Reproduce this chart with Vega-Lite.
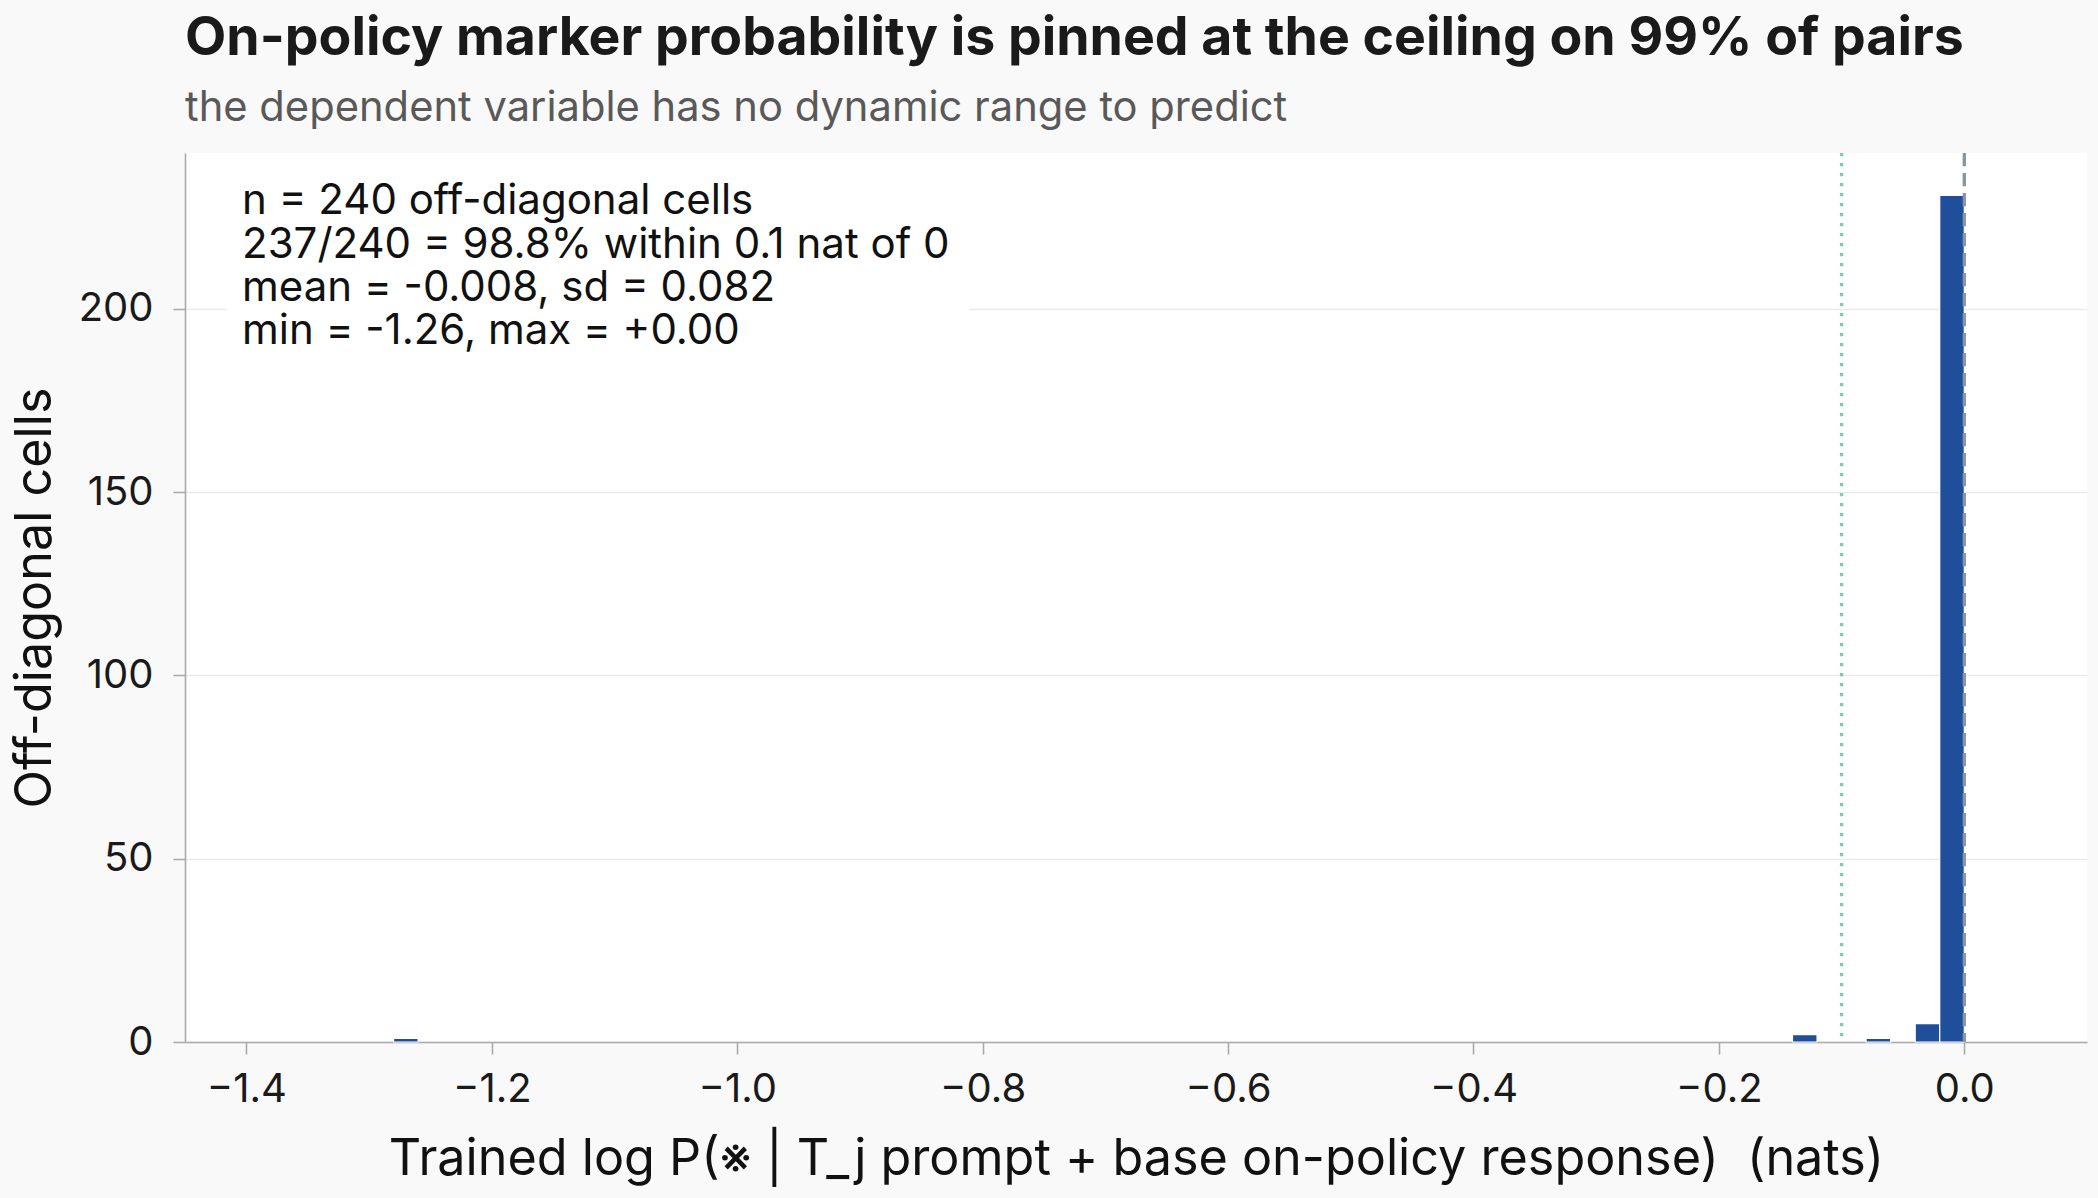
{
  "$schema": "https://vega.github.io/schema/vega-lite/v6.json",
  "width": 1902,
  "height": 889,
  "autosize": {"type": "none"},
  "padding": {"left": 185, "top": 153, "right": 11, "bottom": 156},
  "background": "#f9f9f9",
  "view": {"fill": "white", "stroke": null},
  "title": {
    "text": "On-policy marker probability is pinned at the ceiling on 99% of pairs",
    "subtitle": "the dependent variable has no dynamic range to predict",
    "anchor": "start",
    "frame": "group",
    "font": "Inter",
    "fontSize": 53.6,
    "fontWeight": "bold",
    "color": "#1a1a1a",
    "subtitleFont": "Inter",
    "subtitleFontSize": 41.7,
    "subtitleColor": "#595959",
    "subtitlePadding": 21,
    "offset": 21
  },
  "datasets": {
    "bins": [
      {"bin_start": -1.28, "bin_end": -1.26, "count": 1},
      {"bin_start": -0.14, "bin_end": -0.12, "count": 2},
      {"bin_start": -0.08, "bin_end": -0.06, "count": 1},
      {"bin_start": -0.04, "bin_end": -0.02, "count": 5},
      {"bin_start": -0.02, "bin_end": 0.0, "count": 231}
    ],
    "note": [
      {"lines": ["n = 240 off-diagonal cells", "237/240 = 98.8% within 0.1 nat of 0", "mean = -0.008, sd = 0.082", "min = -1.26, max = +0.00"]}
    ]
  },
  "layer": [
    {
      "data": {"name": "note"},
      "mark": {"type": "rect", "fill": "white", "stroke": null},
      "encoding": {
        "x": {"datum": -1.4155, "type": "quantitative"},
        "x2": {"datum": -0.811},
        "y": {"datum": 192, "type": "quantitative"},
        "y2": {"datum": 242.5}
      }
    },
    {
      "data": {"name": "bins"},
      "mark": {"type": "rect", "color": "#1f4e9b", "stroke": "white", "strokeWidth": 1.2},
      "encoding": {
        "x": {
          "field": "bin_start",
          "type": "quantitative",
          "scale": {"domain": [-1.45, 0.1], "nice": false, "zero": false},
          "axis": {
            "values": [-1.4, -1.2, -1.0, -0.8, -0.6, -0.4, -0.2, 0.0],
            "format": ".1f",
            "grid": false,
            "domainColor": "#aaaaaa",
            "domainWidth": 1.6,
            "tickColor": "#aaaaaa",
            "tickWidth": 1.6,
            "tickSize": 12,
            "labelFont": "Inter",
            "labelFontSize": 40,
            "labelColor": "#1a1a1a",
            "labelPadding": 15,
            "labelFlush": false,
            "title": "Trained log P(※ | T_j prompt + base on-policy response) \u00a0(nats)",
            "titleFont": "Inter",
            "titleFontSize": 50.3,
            "titleFontWeight": "normal",
            "titleColor": "#111111",
            "titleX": 951,
            "titleY": 132,
            "titleAlign": "center",
            "titleBaseline": "alphabetic"
          }
        },
        "x2": {"field": "bin_end"},
        "y": {
          "field": "count",
          "type": "quantitative",
          "scale": {"domain": [0, 242.55], "nice": false},
          "axis": {
            "values": [0, 50, 100, 150, 200],
            "grid": true,
            "gridColor": "#ebebeb",
            "gridWidth": 1.5,
            "domainColor": "#aaaaaa",
            "domainWidth": 1.6,
            "tickColor": "#aaaaaa",
            "tickWidth": 1.6,
            "tickSize": 12,
            "labelFont": "Inter",
            "labelFontSize": 40,
            "labelColor": "#1a1a1a",
            "labelPadding": 20,
            "labelFlush": false,
            "title": "Off-diagonal cells",
            "titleFont": "Inter",
            "titleFontSize": 50.3,
            "titleFontWeight": "normal",
            "titleColor": "#111111",
            "titleAngle": -90,
            "titleX": -135,
            "titleY": 444.5,
            "titleAlign": "center",
            "titleBaseline": "alphabetic"
          }
        },
        "y2": {"datum": 0}
      }
    },
    {
      "data": {"name": "note"},
      "mark": {"type": "text", "align": "left", "baseline": "alphabetic", "font": "Inter", "fontSize": 42, "lineHeight": 43.3, "color": "#111111"},
      "encoding": {
        "x": {"datum": -1.4035, "type": "quantitative"},
        "y": {"datum": 225.8, "type": "quantitative"},
        "text": {"field": "lines"}
      }
    },
    {
      "data": {"name": "note"},
      "mark": {"type": "rule", "color": "#66c2a5", "opacity": 0.85, "strokeWidth": 3.3, "strokeDash": [3.3, 6.7]},
      "encoding": {"x": {"datum": -0.1, "type": "quantitative"}}
    },
    {
      "data": {"name": "note"},
      "mark": {"type": "rule", "color": "#8a949e", "strokeWidth": 3.3, "strokeDash": [13.3, 6.7]},
      "encoding": {"x": {"datum": 0, "type": "quantitative"}}
    }
  ]
}
